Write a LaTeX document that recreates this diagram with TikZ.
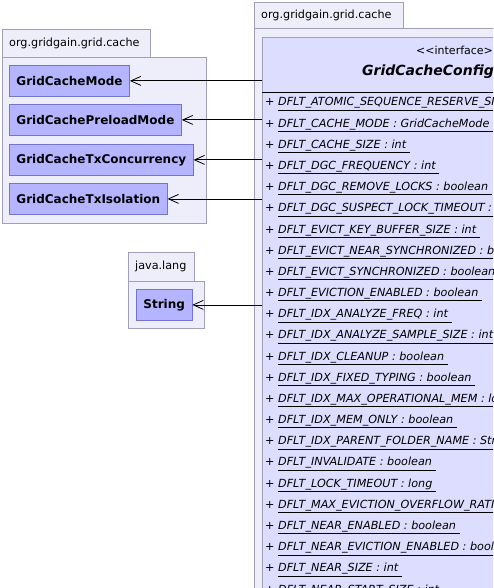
\documentclass[tikz,border=0pt]{standalone}
\usepackage{fontspec}
\setmainfont{DejaVu Sans}
\usetikzlibrary{arrows.meta,positioning}
\definecolor{pkgfill}{HTML}{EEEEFA}
\definecolor{pkgline}{HTML}{A0A0B8}
\definecolor{clsfill}{HTML}{B4B4FF}
\definecolor{clsline}{HTML}{7474CC}
\definecolor{ifcfill}{HTML}{DDDDFF}
\tikzset{
  pkg/.style={draw=pkgline, fill=pkgfill, line width=0.8pt},
  pkglabel/.style={anchor=west, inner sep=0pt, font=\fontsize{11.2}{13}\selectfont},
  cls/.style={draw=clsline, fill=clsfill, line width=0.8pt, anchor=north west,
    minimum height=31pt, inner xsep=7pt, font=\fontsize{12}{14}\selectfont\bfseries},
  ifc/.style={draw=pkgline, fill=ifcfill, line width=0.8pt},
  attr/.style={anchor=west, inner sep=0pt, font=\fontsize{11.2}{13}\selectfont\itshape},
  dep/.style={-{Straight Barb[length=10pt,width=9pt]}, line width=0.8pt}
}
\begin{document}
\begin{tikzpicture}[x=1pt,y=-1pt]
\useasboundingbox (0,0) rectangle (493,588);
\clip (0,0) rectangle (493,588);

% package org.gridgain.grid.cache (left)
\draw[pkg] (2,29) rectangle (150,57);
\draw[pkg] (2,57) rectangle (206,223);
\node[pkglabel] (pkgleft) at (9,43) {org.gridgain.grid.cache};
\node[cls] (mode) at (9,65) {GridCacheMode};
\node[cls] (preload) at (9,104) {GridCachePreloadMode};
\node[cls] (txconc) at (9,144) {GridCacheTxConcurrency};
\node[cls] (txiso) at (9,183) {GridCacheTxIsolation};

% package java.lang
\draw[pkg] (128,252) rectangle (194,281);
\draw[pkg] (128,281) rectangle (204,328);
\node[pkglabel] (pkgjava) at (135,266) {java.lang};
\node[cls] (string) at (136,289) {String};

% package org.gridgain.grid.cache (right)
\draw[pkg] (254,2) rectangle (403,28);
\draw[pkg] (254,28) rectangle (700,700);
\node[pkglabel] (pkgright) at (261,15) {org.gridgain.grid.cache};

% interface
\node[ifc, anchor=north west, minimum width=390pt, minimum height=650pt] (iface) at (262,37) {};
\node[anchor=west, inner sep=0pt, font=\fontsize{11}{13}\selectfont] (stereo) at (416,50) {<{}<interface>{}>};
\node[anchor=west, inner sep=0pt, font=\fontsize{14}{17}\selectfont\bfseries\itshape] (title) at (362,72) {GridCacheConfiguration};
\draw[line width=0.8pt] (262,92) -- (652,92);
\foreach \attr [count=\i from 0] in {
  DFLT\_ATOMIC\_SEQUENCE\_RESERVE\_SIZE : int,
  DFLT\_CACHE\_MODE : GridCacheMode,
  DFLT\_CACHE\_SIZE : int,
  DFLT\_DGC\_FREQUENCY : int,
  DFLT\_DGC\_REMOVE\_LOCKS : boolean,
  DFLT\_DGC\_SUSPECT\_LOCK\_TIMEOUT : long,
  DFLT\_EVICT\_KEY\_BUFFER\_SIZE : int,
  DFLT\_EVICT\_NEAR\_SYNCHRONIZED : boolean,
  DFLT\_EVICT\_SYNCHRONIZED : boolean,
  DFLT\_EVICTION\_ENABLED : boolean,
  DFLT\_IDX\_ANALYZE\_FREQ : int,
  DFLT\_IDX\_ANALYZE\_SAMPLE\_SIZE : int,
  DFLT\_IDX\_CLEANUP : boolean,
  DFLT\_IDX\_FIXED\_TYPING : boolean,
  DFLT\_IDX\_MAX\_OPERATIONAL\_MEM : long,
  DFLT\_IDX\_MEM\_ONLY : boolean,
  DFLT\_IDX\_PARENT\_FOLDER\_NAME : String,
  DFLT\_INVALIDATE : boolean,
  DFLT\_LOCK\_TIMEOUT : long,
  DFLT\_MAX\_EVICTION\_OVERFLOW\_RATIO : float,
  DFLT\_NEAR\_ENABLED : boolean,
  DFLT\_NEAR\_EVICTION\_ENABLED : boolean,
  DFLT\_NEAR\_SIZE : int,
  DFLT\_NEAR\_START\_SIZE : int}
  \node[attr] (a\i) at (265,104+21.18*\i) {+ \underline{\attr\ }};

% dependencies
\draw[dep] (iface.west |- mode.east) -- (mode.east);
\draw[dep] (iface.west |- preload.east) -- (preload.east);
\draw[dep] (iface.west |- txconc.east) -- (txconc.east);
\draw[dep] (iface.west |- txiso.east) -- (txiso.east);
\draw[dep] (iface.west |- string.east) -- (string.east);
\end{tikzpicture}
\end{document}
